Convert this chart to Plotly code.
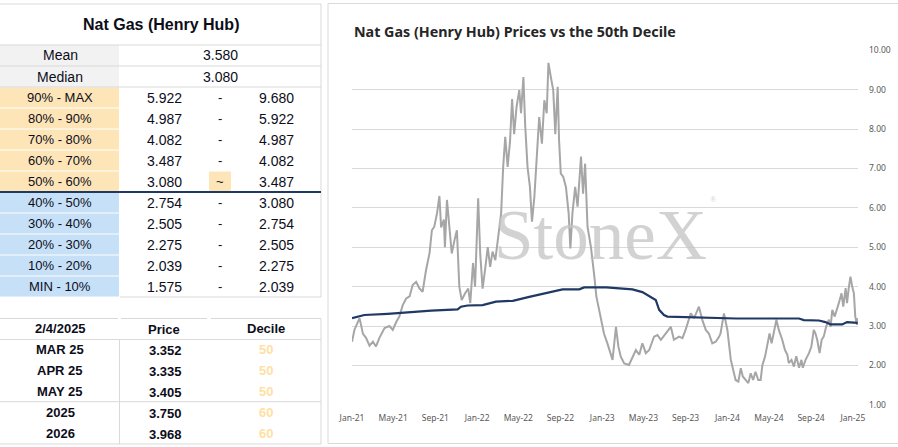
import plotly.graph_objects as go

W, H = 898, 447
NAVY = '#1F3864'
PRICE_GREY = '#A6A6A6'
GRID = '#D9D9D9'
PEACH = '#FDE5B8'
BLUE = '#C5E0F7'
CELL_GREY = '#F2F2F2'
INK = '#0D0D1A'
TABLE_FONT = 'Liberation Sans'
CHART_FONT = 'Noto Sans'

# ---------------------------------------------------------------- table data
stat_labels = ['Mean', 'Median']
stat_values = ['3.580', '3.080']
decile_labels = ['90% - MAX', '80% - 90%', '70% - 80%', '60% - 70%', '50% - 60%',
                 '40% - 50%', '30% - 40%', '20% - 30%', '10% - 20%', 'MIN - 10%']
decile_low = ['5.922', '4.987', '4.082', '3.487', '3.080', '2.754', '2.505', '2.275', '2.039', '1.575']
decile_high = ['9.680', '5.922', '4.987', '4.082', '3.487', '3.080', '2.754', '2.505', '2.275', '2.039']
decile_sep = ['-', '-', '-', '-', '~', '-', '-', '-', '-', '-']
current_decile = '50% - 60%'
asof = '2/4/2025'
contracts = ['MAR 25', 'APR 25', 'MAY 25', '2025', '2026']
contract_price = ['3.352', '3.335', '3.405', '3.750', '3.968']
contract_decile = ['50', '50', '50', '60', '60']

# ---------------------------------------------------------------- chart data
price_dates = [
    '2021-01-01', '2021-01-08', '2021-01-23', '2021-02-02', '2021-02-11', '2021-02-21', '2021-03-03',
    '2021-03-12', '2021-03-22', '2021-04-06', '2021-04-20', '2021-04-30', '2021-05-10', '2021-05-19',
    '2021-05-29', '2021-06-08', '2021-06-18', '2021-06-27', '2021-07-07', '2021-07-17', '2021-07-26',
    '2021-08-05', '2021-08-15', '2021-08-22', '2021-08-29', '2021-09-06', '2021-09-13', '2021-09-18',
    '2021-09-26', '2021-09-29', '2021-10-05', '2021-10-12', '2021-10-19', '2021-10-27', '2021-11-03',
    '2021-11-10', '2021-11-17', '2021-11-27', '2021-12-06', '2021-12-12', '2021-12-20', '2021-12-26',
    '2022-01-04', '2022-01-10', '2022-01-17', '2022-01-24', '2022-02-01', '2022-02-08', '2022-02-15',
    '2022-02-23', '2022-03-05', '2022-03-12', '2022-03-18', '2022-03-24', '2022-03-31', '2022-04-07',
    '2022-04-13', '2022-04-19', '2022-04-26', '2022-05-04', '2022-05-09', '2022-05-16', '2022-05-21',
    '2022-05-28', '2022-06-04', '2022-06-10', '2022-06-17', '2022-06-23', '2022-07-01', '2022-07-09',
    '2022-07-16', '2022-07-23', '2022-07-28', '2022-08-04', '2022-08-11', '2022-08-17', '2022-08-24',
    '2022-08-28', '2022-09-02', '2022-09-09', '2022-09-17', '2022-09-25', '2022-09-30', '2022-10-06',
    '2022-10-14', '2022-10-21', '2022-10-31', '2022-11-06', '2022-11-12', '2022-11-19', '2022-11-29',
    '2022-12-08', '2022-12-15', '2022-12-25', '2023-01-06', '2023-01-16', '2023-01-31', '2023-02-10',
    '2023-02-17', '2023-02-24', '2023-03-06', '2023-03-20', '2023-03-30', '2023-04-09', '2023-04-19',
    '2023-04-28', '2023-05-08', '2023-05-18', '2023-06-01', '2023-06-11', '2023-06-21', '2023-07-05',
    '2023-07-20', '2023-07-29', '2023-08-13', '2023-08-23', '2023-09-01', '2023-09-16', '2023-09-26',
    '2023-10-10', '2023-10-20', '2023-10-30', '2023-11-08', '2023-11-18', '2023-11-28', '2023-12-08',
    '2023-12-12', '2023-12-22', '2024-01-01', '2024-01-11', '2024-01-20', '2024-01-25', '2024-02-02',
    '2024-02-09', '2024-02-15', '2024-02-23', '2024-03-02', '2024-03-09', '2024-03-16', '2024-03-23',
    '2024-03-31', '2024-04-07', '2024-04-12', '2024-04-20', '2024-04-26', '2024-05-03', '2024-05-09',
    '2024-05-16', '2024-05-23', '2024-05-30', '2024-06-09', '2024-06-17', '2024-06-24', '2024-06-28',
    '2024-07-06', '2024-07-13', '2024-07-20', '2024-07-28', '2024-08-04', '2024-08-08', '2024-08-16',
    '2024-08-26', '2024-09-02', '2024-09-09', '2024-09-14', '2024-09-19', '2024-09-26', '2024-10-02',
    '2024-10-08', '2024-10-15', '2024-10-23', '2024-10-28', '2024-11-02', '2024-11-09', '2024-11-16',
    '2024-11-21', '2024-11-29', '2024-12-04', '2024-12-11', '2024-12-15', '2024-12-20', '2024-12-25',
    '2024-12-30', '2025-01-04', '2025-01-08', '2025-01-13', '2025-01-15',
]
price_vals = [
    2.60, 2.90, 3.20, 2.80, 2.70, 2.50, 2.60,
    2.48, 2.70, 2.95, 3.00, 2.90, 3.10, 3.24,
    3.53, 3.70, 3.75, 4.04, 4.12, 3.95, 3.87,
    4.42, 4.84, 5.43, 5.52, 5.86, 6.30, 5.50,
    5.70, 5.00, 6.20, 5.50, 4.84, 5.18, 5.43,
    4.00, 3.66, 3.83, 3.95, 3.58, 4.60, 4.00,
    6.24, 4.84, 3.95, 4.42, 5.00, 4.50, 4.89,
    4.67, 5.35, 5.86, 7.04, 7.80, 7.04, 7.70,
    8.76, 7.87, 8.56, 8.99, 8.40, 9.32, 8.13,
    7.04, 6.53, 5.65, 6.28, 7.20, 8.30, 7.63,
    8.73, 8.40, 9.68, 9.32, 8.99, 7.87, 9.07,
    7.72, 6.87, 6.79, 6.53, 5.86, 4.97, 5.86,
    6.53, 6.03, 7.30, 6.36, 7.12, 5.52, 5.00,
    4.33, 3.74, 3.32, 2.81, 2.56, 2.14, 2.98,
    2.48, 2.22, 2.05, 2.01, 2.22, 2.39, 2.27,
    2.56, 2.31, 2.39, 2.73, 2.77, 2.65, 2.81,
    2.98, 2.65, 2.73, 2.69, 2.90, 3.32, 3.20,
    3.49, 3.15, 2.90, 2.81, 2.56, 2.60, 2.73,
    2.81, 3.32, 2.90, 2.14, 1.80, 1.63, 1.59,
    1.93, 1.72, 1.63, 1.55, 1.80, 1.63, 1.84,
    1.63, 1.63, 2.00, 2.23, 2.48, 2.81, 2.56,
    2.90, 3.16, 2.90, 2.65, 2.39, 2.27, 2.06,
    2.14, 1.97, 2.23, 1.94, 2.14, 1.94, 2.14,
    2.31, 2.48, 2.90, 2.81, 2.65, 2.31, 2.65,
    2.73, 2.98, 3.16, 2.98, 3.41, 3.24, 3.41,
    3.58, 3.83, 3.49, 3.96, 3.58, 3.96, 4.25,
    4.00, 3.83, 3.24, 3.03, 3.20,
]

decile_dates = [
    '2021-01-01', '2021-02-06', '2021-04-15', '2021-06-22', '2021-08-20', '2021-11-05', '2021-11-15',
    '2021-12-04', '2022-01-17', '2022-02-25', '2022-04-15', '2022-06-02', '2022-07-21', '2022-09-07',
    '2022-10-26', '2022-11-09', '2023-01-13', '2023-02-19', '2023-03-30', '2023-04-28', '2023-05-22',
    '2023-06-06', '2023-06-16', '2023-06-30', '2023-07-10', '2023-08-13', '2023-10-01', '2023-11-08',
    '2024-01-27', '2024-07-28', '2024-08-11', '2024-09-24', '2024-10-13', '2024-10-28', '2024-12-01',
    '2024-12-15', '2025-01-15',
]
decile_vals = [
    3.20, 3.28, 3.31, 3.36, 3.39, 3.42, 3.49,
    3.52, 3.53, 3.62, 3.64, 3.74, 3.83, 3.93,
    3.93, 3.98, 3.98, 3.95, 3.93, 3.86, 3.74,
    3.66, 3.41, 3.28, 3.24, 3.23, 3.22, 3.20,
    3.19, 3.19, 3.15, 3.14, 3.10, 3.04, 3.04,
    3.10, 3.08,
]


# ---------------------------------------------------------------- helpers --
def px(x):
    return x / W


def py(y):
    return 1 - y / H


shapes, notes = [], []


def rect(x0, y0, x1, y1, fill):
    shapes.append(dict(type='rect', xref='paper', yref='paper', x0=px(x0), x1=px(x1),
                       y0=py(y1), y1=py(y0), fillcolor=fill, line_width=0, layer='below'))


def hline(y, x0, x1, color=GRID, w=1):
    shapes.append(dict(type='line', xref='paper', yref='paper', x0=px(x0), x1=px(x1),
                       y0=py(y), y1=py(y), line=dict(color=color, width=w)))


def vline(x, y0, y1, color=GRID, w=1):
    shapes.append(dict(type='line', xref='paper', yref='paper', x0=px(x), x1=px(x),
                       y0=py(y0), y1=py(y1), line=dict(color=color, width=w)))


def text(x, y, s, size=14, bold=False, color=INK, xanchor='center', family=TABLE_FONT):
    notes.append(dict(xref='paper', yref='paper', x=px(x), y=py(y), showarrow=False,
                      text=f'<b>{s}</b>' if bold else s, xanchor=xanchor, yanchor='middle',
                      font=dict(family=family, size=size, color=color)))


# --------------------------------------------------------- decile table ----
LX0, LX1, RX = 0, 119, 321
COL_LO, COL_SEP, COL_HI, COL_MID = 164, 220, 276, 220
hline(4, 0, RX)
vline(RX, 4, 297)
text(161, 24, 'Nat Gas (Henry Hub)', size=16, bold=True)
hline(45, 0, RX)

ROW_H, top = 21, 45
for lab, val in zip(stat_labels, stat_values):
    rect(LX0, top, LX1, top + ROW_H, CELL_GREY)
    text(60, top + 10.5, lab, size=14)
    text(COL_MID, top + 10.5, val, size=14)
    top += ROW_H
    hline(top, 0, RX)

upper = True
for lab, lo, sep, hi in zip(decile_labels, decile_low, decile_sep, decile_high):
    rect(LX0, top + 0.5, LX1, top + ROW_H - 0.5, PEACH if upper else BLUE)
    if sep == '~':
        rect(209, top + 0.5, 231, top + ROW_H, PEACH)
    text(60, top + 10.5, lab, size=13)
    text(COL_LO, top + 11, lo, size=14)
    text(COL_SEP, top + 10.5, sep, size=13)
    text(COL_HI, top + 11, hi, size=14)
    top += ROW_H
    if lab == current_decile:
        hline(top, 0, RX, color=NAVY, w=2)
        upper = False
hline(top, LX1 + 1, RX)

# -------------------------------------------------------- forward table ----
hline(318.5, 0, 118)
hline(318.5, 121, 207)
hline(318.5, 211, RX)
vline(RX, 318.5, 444)
text(60, 328.5, asof, size=13, bold=True)
text(164, 329.5, 'Price', size=13, bold=True)
text(266, 328.5, 'Decile', size=13, bold=True)
hline(339.5, 0, RX)
vline(119.5, 339.5, 444)
row_y = [349.5, 370.3, 391, 412.3, 433.3]
for yc, name, pr, dc in zip(row_y, contracts, contract_price, contract_decile):
    text(60, yc, name, size=13, bold=True)
    text(165, yc + 1, pr, size=13, bold=True)
    text(266, yc, dc, size=13, bold=True, color='#FFDFA3')
hline(401.7, 0, RX)
hline(444, 0, RX)

# --------------------------------------------------------------- chart -----
shapes.append(dict(type='rect', xref='paper', yref='paper', x0=px(328), x1=px(905),
                   y0=py(443.5), y1=py(3.5), line=dict(color=GRID, width=1), layer='below'))
text(352, 31.5, 'Nat Gas (Henry Hub) Prices vs the 50th Decile', size=14.3, bold=True,
     color='#262626', xanchor='left', family=CHART_FONT)
notes.append(dict(xref='paper', yref='paper', x=px(600), y=py(235), showarrow=False,
                  text='StoneX', xanchor='center', yanchor='middle', opacity=0.75,
                  font=dict(family='Liberation Serif', size=71, color='#C4C4C4')))
notes.append(dict(xref='paper', yref='paper', x=px(713), y=py(199), showarrow=False,
                  text='®', xanchor='center', yanchor='middle', opacity=0.75,
                  font=dict(family='Liberation Serif', size=8, color='#C4C4C4')))

fig = go.Figure()
fig.add_trace(go.Scatter(x=price_dates, y=price_vals, mode='lines', name='Price',
                         line=dict(color=PRICE_GREY, width=2)))
fig.add_trace(go.Scatter(x=decile_dates, y=decile_vals, mode='lines', name='50th Decile',
                         line=dict(color=NAVY, width=2.2)))

fig.update_layout(
    width=W, height=H, margin=dict(l=0, r=0, t=0, b=0, pad=0, autoexpand=False),
    paper_bgcolor='white', plot_bgcolor='white', showlegend=False,
    shapes=shapes, annotations=notes,
    xaxis=dict(domain=[px(352), px(858)], type='date', range=['2021-01-01', '2025-01-16'],
               tickformat='%b-%y', dtick='M4', tick0='2021-01-01', showgrid=False,
               showline=False, zeroline=False, ticks='', ticklabelstandoff=6,
               tickfont=dict(family=CHART_FONT, size=8.5, color='#595959')),
    yaxis=dict(domain=[py(405), py(50)], range=[0.995, 10.005], dtick=1, tick0=1,
               tickformat='.2f', side='right', gridcolor=GRID, gridwidth=1,
               showline=False, zeroline=False, ticks='', ticklabelstandoff=10,
               tickfont=dict(family=CHART_FONT, size=8.5, color='#595959')),
)

# the page body keeps its default 8px margin otherwise
fig.write_html('out.html', config={'displayModeBar': False},
               post_script="document.body.style.margin='0';")
